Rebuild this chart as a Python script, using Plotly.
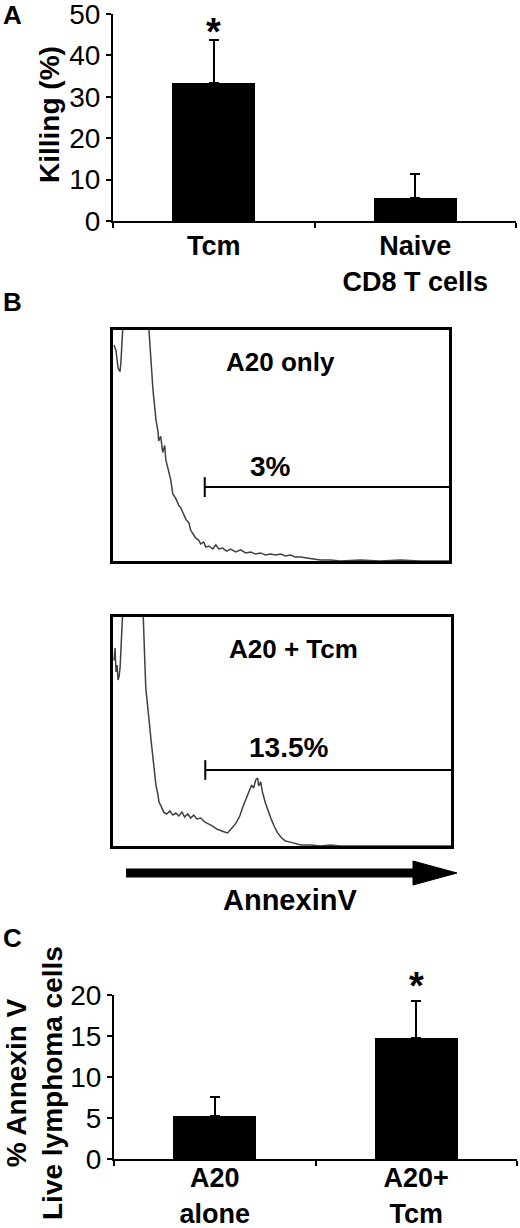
import plotly.graph_objects as go

FONT = "Liberation Sans, Arial, sans-serif"
W, H = 520, 1228

# ---------------- Panel A data ----------------
a_groups = ["Tcm", "Naive<br>CD8 T cells"]
a_killing = [33.3, 5.5]
a_err = [10.5, 5.8]
a_ticks = [0, 10, 20, 30, 40, 50]

# ---------------- Panel B data (flow histograms, arbitrary units) ----------------
b1_x = [0.3, 0.9, 1.5, 2.1, 2.4, 3.0, 4.0, 6.5, 9.5, 10.7, 11.3, 11.9, 12.8, 13.4, 13.6, 14.2,
        14.8, 15.4, 15.7, 16.6, 17.2, 17.8, 18.7, 19.6, 20.2, 20.8, 21.7, 22.6, 23.1, 23.7,
        24.6, 25.5, 26.1, 27.0, 27.6, 28.5, 29.7, 30.6, 31.5, 32.6, 33.8, 35.0, 36.5, 38.0,
        39.5, 41.0, 42.4, 43.9, 45.4, 46.9, 48.4, 49.9, 51.3, 52.8, 54.3, 55.8, 57.3, 58.8,
        61.7, 64.7, 67.7, 73.6, 79.5, 85.5, 91.4, 100.0]
b1_y = [93.5, 91, 83.5, 82, 87, 100, 150, 200, 150, 100, 87, 74, 61, 56, 52, 54,
        47, 50, 44, 39, 35, 29, 27, 24, 23, 21, 18, 16.5, 13.4, 12,
        10, 9, 7.4, 8.2, 6, 6.5, 5.2, 7, 5.2, 5.6, 4.3, 5.2, 3.9, 4.8,
        3.5, 3.9, 3.0, 3.5, 2.6, 3.0, 2.6, 3.0, 2.2, 2.6, 1.7, 1.7, 1.3, 0.9,
        0.4, 0.4, 0, 0.4, 0, 0.4, 0, 0]
b2_x = [0.3, 0.6, 0.9, 1.2, 1.5, 1.8, 2.1, 2.4, 2.7, 2.9, 3.8, 6.0, 7.8, 8.8, 9.4, 9.7,
        10.3, 10.6, 11.2, 11.8, 12.4, 12.7, 13.3, 13.6, 14.2, 15.0, 15.9, 16.8, 17.7, 18.6,
        19.5, 20.4, 21.2, 22.1, 23.0, 23.9, 24.8, 26.0, 27.1, 28.3, 29.5, 30.7, 31.9, 33.0,
        33.9, 34.8, 35.7, 36.6, 37.5, 38.3, 39.2, 40.1, 41.0, 41.6, 42.2, 42.8, 43.1, 43.7,
        44.2, 45.1, 46.0, 46.9, 47.8, 48.7, 49.9, 51.0, 52.5, 54.0, 55.5, 58.4, 61.4, 64.3,
        67.3, 100.0]
b2_y = [81, 86.5, 76, 79, 72.5, 74, 78, 85.6, 94, 100, 140, 200, 150, 100, 81, 69,
        61.6, 56, 47, 39.7, 32.3, 26.6, 22.3, 19.2, 17.5, 14.8, 14, 15.3, 13.5, 14.4,
        13.1, 14.8, 12.7, 14, 12.2, 13.5, 11.8, 12.2, 10.5, 9.6, 8.7, 7.4, 6.6, 6.1,
        5.7, 7.0, 8.7, 10.5, 13.1, 16.6, 20, 23, 26.6, 25.3, 28.8, 29.7, 26.2, 28,
        23.6, 18.8, 14.8, 11.4, 8.3, 5.7, 3.5, 2.2, 1.7, 0.9, 0.4, 0.4, 0, 0.4,
        0, 0]
b_gate_start = 27.3
b_gate_levels = [32.0, 33.2]
b_titles = ["A20 only", "A20 + Tcm"]
b_title_x = [49.9, 53.4]
b_pcts = ["3%", "13.5%"]
b_pct_x = [46.9, 51.9]
b_pct_y = [40.7, 43.2]

# ---------------- Panel C data ----------------
c_groups = ["A20<br>alone", "A20+<br>Tcm"]
c_annexin = [5.25, 14.7]
c_err = [2.35, 4.6]
c_ticks = [0, 5, 10, 15, 20]


def px(p):
    return p / W


def py(p):
    return 1 - p / H


fig = go.Figure()

# Panel A bars
fig.add_trace(go.Bar(
    x=a_groups, y=a_killing, width=0.41, marker=dict(color="black", line=dict(width=0)),
    error_y=dict(type="data", symmetric=False, array=a_err, arrayminus=[0, 0],
                 color="black", thickness=2, width=5),
    xaxis="x", yaxis="y", showlegend=False))

# Panel B histograms
gate_style = dict(color="black", width=2)
for i, (hx, hy) in enumerate([(b1_x, b1_y), (b2_x, b2_y)]):
    xa, ya = ("x2", "y2") if i == 0 else ("x3", "y3")
    fig.add_trace(go.Scatter(x=hx, y=hy, mode="lines", line=dict(color="#404040", width=1.5),
                             xaxis=xa, yaxis=ya, showlegend=False))
    lvl = b_gate_levels[i]
    fig.add_trace(go.Scatter(x=[b_gate_start, 100], y=[lvl, lvl], mode="lines", line=gate_style,
                             xaxis=xa, yaxis=ya, showlegend=False))
    fig.add_trace(go.Scatter(x=[b_gate_start, b_gate_start], y=[lvl - 4.3, lvl + 4.3], mode="lines",
                             line=gate_style, xaxis=xa, yaxis=ya, showlegend=False))

# Panel C bars
fig.add_trace(go.Bar(
    x=c_groups, y=c_annexin, width=0.41, marker=dict(color="black", line=dict(width=0)),
    error_y=dict(type="data", symmetric=False, array=c_err, arrayminus=[0, 0],
                 color="black", thickness=2, width=5),
    xaxis="x4", yaxis="y4", showlegend=False))

tickfont = dict(family=FONT, size=28, color="black")
boldfont = dict(family=FONT, size=27, color="black", weight="bold")

bar_x = dict(type="category", range=[-0.5, 1.5], tickson="boundaries", ticks="outside", ticklen=5,
             tickwidth=2, tickcolor="black", showline=True, linewidth=2, linecolor="black",
             showgrid=False, zeroline=False, tickfont=boldfont, fixedrange=True,
             ticklabeloverflow="allow")
bar_y = dict(ticks="outside", ticklen=5, tickwidth=2, tickcolor="black", showline=True, linewidth=2,
             linecolor="black", showgrid=False, zeroline=False, tickfont=tickfont, fixedrange=True,
             ticklabeloverflow="allow")
hist_ax = dict(range=[0, 100], showline=True, mirror=True, linewidth=3, linecolor="black",
               showgrid=False, zeroline=False, showticklabels=False, ticks="", fixedrange=True)

fig.update_layout(
    width=W, height=H, margin=dict(l=0, r=0, t=0, b=0, autoexpand=False),
    paper_bgcolor="white", plot_bgcolor="white", bargap=0,
    font=dict(family=FONT, color="black"),
    xaxis=dict(bar_x, domain=[px(113), px(516)], anchor="y"),
    yaxis=dict(bar_y, domain=[py(221), py(14)], range=[0, 50], tickvals=a_ticks, anchor="x"),
    xaxis2=dict(hist_ax, domain=[px(113), px(449)], anchor="y2"),
    yaxis2=dict(hist_ax, domain=[py(561), py(330)], anchor="x2"),
    xaxis3=dict(hist_ax, domain=[px(113), px(451)], anchor="y3"),
    yaxis3=dict(hist_ax, domain=[py(846), py(617)], anchor="x3"),
    xaxis4=dict(bar_x, domain=[px(114), px(517)], anchor="y4", ticklabelstandoff=-6),
    yaxis4=dict(bar_y, domain=[py(1159), py(995)], range=[0, 20], tickvals=c_ticks, anchor="x4"),
)

ann = []
bold = lambda s: dict(family=FONT, size=s, color="black", weight="bold")
# Panel letters
for letter, (lx, ly) in zip(["A", "B", "C"], [(12, 15), (12, 302), (12, 938)]):
    ann.append(dict(text=letter, x=px(lx), y=py(ly), xref="paper", yref="paper", showarrow=False,
                    font=bold(26), xanchor="center", yanchor="middle"))
# Y titles
ann.append(dict(text="Killing (%)", x=px(49), y=py(115), xref="paper", yref="paper", showarrow=False,
                textangle=-90, font=bold(28), xanchor="center", yanchor="middle"))
ann.append(dict(text="% Annexin V<br>Live lymphoma cells", x=px(34), y=py(1083), xref="paper",
                yref="paper", showarrow=False, textangle=-90, font=bold(28),
                xanchor="center", yanchor="middle"))
# Significance stars
ann.append(dict(text="*", x=a_groups[0], y=py(32), xref="x", yref="paper", showarrow=False,
                font=bold(38), xanchor="center", yanchor="middle"))
ann.append(dict(text="*", x=c_groups[1], y=py(986), xref="x4", yref="paper", showarrow=False,
                font=bold(38), xanchor="center", yanchor="middle"))
# Histogram labels
for i in range(2):
    xa, ya = ("x2", "y2") if i == 0 else ("x3", "y3")
    ann.append(dict(text=b_titles[i], x=b_title_x[i], y=86, xref=xa, yref=ya, showarrow=False,
                    font=bold(26), xanchor="center", yanchor="middle"))
    ann.append(dict(text=b_pcts[i], x=b_pct_x[i], y=b_pct_y[i], xref=xa, yref=ya, showarrow=False,
                    font=bold(28), xanchor="center", yanchor="middle"))
ann.append(dict(text="AnnexinV", x=px(290), y=py(900), xref="paper", yref="paper", showarrow=False,
                font=bold(29), xanchor="center", yanchor="middle"))
fig.update_layout(annotations=ann)

# Arrow below histograms
fig.add_shape(type="line", xref="paper", yref="paper", x0=px(126), x1=px(416), y0=py(873), y1=py(873),
              line=dict(color="black", width=9))
fig.add_shape(type="path", xref="paper", yref="paper",
              path=f"M {px(413)} {py(861)} L {px(457)} {py(873)} L {px(413)} {py(885)} Z",
              fillcolor="black", line=dict(color="black", width=1))

fig.write_html("out.html", config={"displayModeBar": False},
               post_script="document.body.style.margin='0';document.body.style.padding='0';"
                           "document.documentElement.style.overflow='hidden';")
